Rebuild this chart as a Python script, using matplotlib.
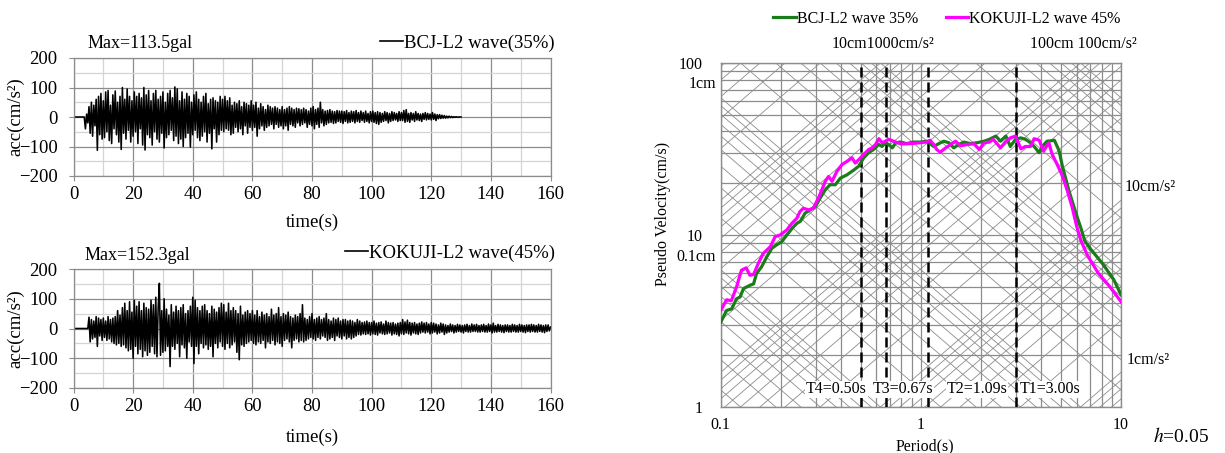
import numpy as np
import matplotlib
matplotlib.use("Agg")
import matplotlib.pyplot as plt
from matplotlib.lines import Line2D
from matplotlib.ticker import NullFormatter

plt.rcParams['font.family'] = ['Liberation Serif', 'DejaVu Serif']
plt.rcParams['mathtext.fontset'] = 'stix'

# ---------------- data ----------------
DT = 0.4  # s, sample step of the digitised records

bcj_acc = [
    0, 0, 0, 0, 0, 0, 0, 0, 0, 0, -40, 10, -20, 35, -55, 50, -65, 40, -30, 60, -113, 70, -60, 80, -75,
    55, -70, 85, -50, 90, -80, 40, -90, 75, -40, 88, -60, 50, -85, 70, -110, 100, -55, 60, -75, 95, -45, 70, -85, 55,
    -65, 85, -50, 70, -90, 80, -40, 65, -95, 100, -112, 75, -60, 90, -70, 55, -95, 80, -50, 90, -75, 60, -85, 70, -55,
    85, -105, 50, -70, 80, -60, 90, -45, 65, -80, 102, -65, 95, -90, 55, -75, 85, -100, 60, -70, 80, -55, 70, -102, 50,
    -60, 75, -45, 85, -70, 60, -80, 50, -65, 70, -50, 80, -85, 45, -55, 60, -108, 65, -40, 55, -85, 50, -60, 70, -45,
    60, -50, 70, -40, 55, -45, 65, -60, 40, -55, 50, -35, 45, -50, 55, -40, 35, -60, 50, -30, 45, -55, 40, -35, 55,
    -45, 40, -35, 50, -65, 30, -40, 45, -30, 35, -45, 25, -35, 40, -30, 35, -25, 30, -40, 35, -25, 30, -35, 25, -30,
    35, -40, 25, -30, 30, -45, 35, -25, 30, -30, 25, -35, 30, -20, 28, -30, 25, -25, 30, -20, 25, -35, 20, -25, 30,
    -30, 35, -40, 25, -25, 30, -35, 50, -20, 25, -30, 20, -25, 22, -20, 25, -18, 20, -22, 18, -20, 22, -15, 20, -18,
    20, -22, 18, -15, 22, -20, 15, -18, 20, -15, 18, -20, 22, -15, 15, -18, 20, -12, 15, -18, 20, -15, 12, -20, 18,
    -15, 20, -18, 15, -22, 18, -25, 15, -18, 12, -15, 18, -12, 15, -20, 12, -15, 18, -12, 15, -10, 12, -15, 18, -12,
    15, -12, 22, -18, 25, -15, 12, -18, 15, -10, 12, -15, 18, -10, 12, -12, 10, -15, 12, -8, 15, -10, 12, -8, 10,
    -10, 15, -8, 10, -12, 8, -6, 8, -5, 6, -4, 5, -4, 3, -3, 3, -2, 2, -2, 1, -1, 1, -1, 0, 0,
    0,
]

kokuji_acc = [
    0, 0, 0, 0, 0, 0, 0, 0, 0, 0, 0, 0, 0, 38, -45, 30, -35, 25, -30, 40, -60, 35, -25, 30, -40,
    35, -30, 25, -40, 40, -35, 30, -45, 35, -50, 40, -55, 60, -50, 45, -60, 70, -55, 85, -65, 60, -75, 90, -70, 55,
    -100, 95, -60, 75, -85, 90, -70, 60, -95, 85, -75, 70, -90, 65, -80, 95, -60, 80, -85, 105, -95, 70, 152, -90, 60,
    -80, 100, -75, 65, -60, 45, -128, 80, -60, 55, -70, 75, -50, 60, -95, 70, -55, 80, -65, 50, -100, 60, -45, 75, -60,
    105, -118, 95, -60, 70, -85, 60, -50, 75, -65, 80, -55, 60, -70, 50, -60, 75, -95, 65, -50, 55, -65, 70, -45, 85,
    -60, 80, -70, 55, -50, 85, -65, 60, -55, 70, -45, 60, -80, 50, -105, 75, -55, 45, -60, 55, -50, 60, -45, 50, -40,
    60, -50, 45, -55, 60, -45, 40, -50, 55, -40, 45, -65, 50, -45, 40, -50, 65, -40, 45, -55, 50, -45, 70, -50, 40,
    -60, 50, -40, 45, -35, 55, -45, 40, -65, 35, -40, 45, -35, 40, -45, 50, -40, 80, -45, 35, -40, 30, -35, 40, -30,
    50, -35, 30, -40, 35, -30, 40, -35, 30, -25, 35, -30, 50, -40, 30, -35, 25, -30, 35, -40, 30, -25, 35, -30, 25,
    -35, 30, -25, 30, -35, 25, -30, 28, -35, 25, -30, 20, -25, 30, -20, 25, -22, 20, -18, 22, -20, 25, -18, 20, -22,
    20, -18, 25, -20, 18, -22, 20, -15, 22, -18, 15, -20, 25, -18, 20, -15, 18, -22, 20, -18, 15, -20, 18, -25, 20,
    -18, 30, -20, 22, -15, 28, -18, 20, -22, 18, -15, 20, -18, 15, -20, 18, -15, 22, -12, 18, -15, 20, -12, 15, -18,
    20, -15, 18, -12, 15, -18, 12, -15, 18, -12, 15, -20, 12, -15, 10, -12, 15, -10, 12, -15, 10, -12, 14, -10, 12,
    -12, 10, -15, 12, -10, 14, -12, 10, -12, 15, -10, 12, -10, 14, -12, 10, -12, 12, -10, 14, -12, 10, -12, 15, -10,
    12, -15, 18, -12, 10, -12, 14, -10, 12, -12, 10, -14, 12, -10, 12, -12, 10, -12, 14, -10, 12, -12, 10, -12, 14,
    -10, 12, -12, 10, -14, 12, -10, 12, -12, 14, -10, 12, -12, 10, -12, 14, -10, 12, -12, 10, -14, 12, -10, 12, -8,
    5,
]

bcj_label = "BCJ-L2 wave(35%)"
kokuji_label = "KOKUJI-L2 wave(45%)"
bcj_max = "Max=113.5gal"
kokuji_max = "Max=152.3gal"

# pseudo velocity response spectra (h=0.05)
bcj_T = [0.100, 0.107, 0.1135, 0.120, 0.125, 0.130, 0.140, 0.146, 0.151, 0.160, 0.170, 0.180, 0.190,
         0.202, 0.214, 0.227, 0.240, 0.250, 0.264, 0.280, 0.297, 0.314, 0.333, 0.352, 0.374, 0.396,
         0.428, 0.461, 0.489, 0.518, 0.549, 0.580, 0.617, 0.640, 0.665, 0.690, 0.720, 0.750, 0.790,
         0.850, 0.920, 0.990, 1.07, 1.16, 1.23, 1.30, 1.38, 1.46, 1.55, 1.64, 1.77, 1.91, 2.07, 2.20,
         2.37, 2.50, 2.66, 2.80, 2.97, 3.16, 3.33, 3.53, 3.73, 3.90, 4.04, 4.27, 4.65, 4.90, 5.10,
         5.50, 6.00, 6.30, 6.60, 7.10, 8.10, 9.20, 10.0]
bcj_sv = [3.11, 3.64, 3.72, 4.26, 4.36, 4.88, 5.10, 5.20, 5.97, 6.53, 7.47, 8.36, 8.75,
          9.15, 10.0, 10.9, 11.7, 12.0, 13.4, 14.0, 14.6, 16.4, 18.3, 19.6, 19.6, 21.4,
          22.4, 23.8, 25.1, 28.1, 30.1, 31.4, 33.6, 32.7, 34.4, 33.6, 32.1, 34.4, 34.7,
          34.0, 34.7, 34.7, 35.1, 32.7, 34.0, 35.1, 34.4, 32.1, 33.6, 34.7, 34.0, 34.4, 35.1, 36.0,
          37.6, 35.1, 37.6, 32.7, 36.0, 36.7, 36.0, 34.4, 32.1, 30.1, 32.7, 35.1, 35.5, 31.0, 25.0,
          18.0, 13.0, 11.0, 9.2, 8.2, 6.8, 5.5, 4.5]

kokuji_T = [0.100, 0.107, 0.113, 0.120, 0.127, 0.134, 0.140, 0.146, 0.154, 0.163, 0.177, 0.187,
            0.198, 0.214, 0.227, 0.240, 0.249, 0.259, 0.275, 0.290, 0.308, 0.320, 0.333, 0.346,
            0.360, 0.381, 0.404, 0.428, 0.453, 0.470, 0.500, 0.518, 0.549, 0.570, 0.594, 0.617,
            0.640, 0.665, 0.690, 0.730, 0.790, 0.850, 0.920, 0.990, 1.07, 1.11, 1.16, 1.20, 1.25,
            1.33, 1.41, 1.49, 1.58, 1.71, 1.84, 1.96, 2.07, 2.20, 2.30, 2.50, 2.66, 2.80, 2.97,
            3.16, 3.33, 3.53, 3.68, 3.90, 4.10, 4.36, 4.53, 4.80, 5.10, 5.40, 5.70, 6.00, 6.30,
            6.80, 7.70, 8.80, 10.0]
kokuji_sv = [3.64, 4.20, 4.15, 4.99, 6.24, 6.44, 5.83, 5.90, 6.83, 7.80, 8.55, 9.78,
             10.0, 10.7, 11.7, 12.5, 13.7, 14.3, 14.0, 14.3, 16.4, 18.3, 20.5, 21.9,
             20.5, 23.5, 25.7, 26.8, 28.1, 26.2, 28.1, 29.4, 31.4, 32.1, 33.6, 36.3,
             34.4, 35.1, 36.0, 35.1, 33.9, 33.9, 34.1, 34.4, 34.7, 35.6, 33.6, 31.4, 30.3,
             32.1, 33.6, 35.1, 33.0, 33.6, 33.9, 31.4, 34.4, 34.7, 36.0, 32.1, 35.1, 36.7, 37.6,
             31.7, 32.7, 32.7, 36.3, 35.6, 30.7, 34.4, 29.4, 25.7, 22.0, 18.0, 14.5, 11.3, 9.3,
             7.6, 6.0, 5.0, 4.1]

period_marks = [0.50, 0.67, 1.09, 3.00]
period_texts = ["T4=0.50s", "T3=0.67s", "T2=1.09s", "T1=3.00s"]
spec_labels = ["BCJ-L2 wave 35%", "KOKUJI-L2 wave 45%"]
disp_levels = [m * 10.0 ** k for k in range(-2, 3) for m in range(1, 10)]   # cm
acc_levels = [m * 10.0 ** k for k in range(-1, 4) for m in range(1, 10)]    # cm/s2

# ---------------- figure ----------------
W, H = 1225, 453
fig = plt.figure(figsize=(W / 100, H / 100), dpi=100)


def fx(px):
    return px / W


def fy(py):
    return 1 - py / H


GCOL = '#8c8c8c'


def time_axes(px_box, acc, label, maxtxt, title_xy, leg_xy, xlabel_y):
    l, r, t, b = px_box
    ax = fig.add_axes([fx(l), fy(b), fx(r) - fx(l), fy(t) - fy(b)])
    tt = np.arange(len(acc)) * DT
    ax.plot(tt, acc, color='black', lw=1.15)
    ax.set_xlim(0, 160)
    ax.set_ylim(-200, 200)
    ax.set_xticks(np.arange(0, 161, 20))
    ax.set_xticks(np.arange(0, 161, 10), minor=True)
    ax.set_yticks(np.arange(-200, 201, 100))
    ax.set_yticks(np.arange(-200, 201, 50), minor=True)
    ax.grid(which='minor', color='#d4d4d4', lw=0.9)
    ax.grid(which='major', color=GCOL, lw=0.9)
    ax.set_axisbelow(True)
    for s in ax.spines.values():
        s.set_color(GCOL)
        s.set_linewidth(0.9)
    ax.tick_params(which='major', length=3.5, color=GCOL, labelsize=13.5)
    ax.tick_params(axis='x', pad=4)
    ax.tick_params(axis='y', pad=8)
    ax.tick_params(which='minor', length=0)
    fig.text(fx(title_xy[0]), fy(title_xy[1]), maxtxt, fontsize=13, ha='left', va='center')
    fig.text(fx(16), fy((t + b) / 2), 'acc(cm/s²)',
             rotation=90, fontsize=13.5, ha='center', va='center')
    fig.text(fx((l + r) / 2), fy(xlabel_y), 'time(s)', fontsize=13.5, ha='center', va='center')
    h = Line2D([], [], color='black', lw=1.2)
    ax.legend([h], [label], loc='center right', bbox_to_anchor=(fx(leg_xy[0]), fy(leg_xy[1])),
              bbox_transform=fig.transFigure, frameon=False, fontsize=13.5,
              handlelength=1.25, handletextpad=0.05, borderpad=0, borderaxespad=0)
    return ax


time_axes((73.5, 550.5, 58, 176), bcj_acc, bcj_label, bcj_max, (88, 43), (555, 43), 222)
time_axes((73.5, 550.5, 269, 388), kokuji_acc, kokuji_label, kokuji_max, (85, 255), (555, 253), 437)

# ---------------- tripartite spectrum ----------------
L, R, T0, B = 720.7, 1121, 63, 407
ax = fig.add_axes([fx(L), fy(B), fx(R) - fx(L), fy(T0) - fy(B)])
ax.set_xscale('log')
ax.set_yscale('log')

Tg = np.array([0.1, 10.0])
for d in disp_levels:
    ax.plot(Tg, 2 * np.pi * d / Tg, color=GCOL, lw=0.6, zorder=1)
for a in acc_levels:
    ax.plot(Tg, a * Tg / (2 * np.pi), color=GCOL, lw=0.6, zorder=1)
ax.set_xlim(0.1, 10)
ax.set_ylim(1, 100)
ax.set_axisbelow(True)
for s in ax.spines.values():
    s.set_color(GCOL)
    s.set_linewidth(1.0)

ax.set_xticks([0.1, 1, 10])
ax.set_xticklabels(['0.1', '1', '10'])
ax.set_yticks([1, 10, 100])
ax.set_yticklabels(['1', '10', '100'])
ax.minorticks_on()
ax.xaxis.set_minor_formatter(NullFormatter())
ax.yaxis.set_minor_formatter(NullFormatter())
ax.tick_params(which='both', length=0, labelsize=11.5)
ax.tick_params(axis='y', which='major', pad=13)
ax.tick_params(axis='x', which='major', pad=7)
ax.grid(which='both', color=GCOL, lw=0.9, zorder=1)

for Tm in period_marks:
    ax.axvline(Tm, color='black', lw=1.8, ls=(0, (4, 2)), zorder=3)

ax.plot(bcj_T, bcj_sv, color='#1a7d1a', lw=2.3, zorder=4)
ax.plot(kokuji_T, kokuji_sv, color='#ff00ff', lw=2.3, zorder=5)

for Tl, s in zip([0.267, 0.577, 1.34, 3.10], period_texts):
    ax.text(Tl, 1.27, s, fontsize=11.5, ha='left', va='center', zorder=6,
            bbox=dict(facecolor='white', edgecolor='none', pad=0.5))

# displacement / acceleration labels
tr = ax.get_yaxis_transform()
ax.text(-0.012, 76, '1cm', transform=tr, fontsize=11.5, ha='right', va='center')
ax.text(-0.012, 7.4, '0.1cm', transform=tr, fontsize=11.5, ha='right', va='center')
ax.text(1.01, 19, '10cm/s²', transform=tr, fontsize=11.5, ha='left', va='center')
ax.text(1.015, 1.87, '1cm/s²', transform=tr, fontsize=11.5, ha='left', va='center')
fig.text(fx(883), fy(44), '10cm1000cm/s²', fontsize=11.5, ha='center', va='center')
fig.text(fx(1083), fy(44), '100cm 100cm/s²', fontsize=11.5, ha='center', va='center')

fig.text(fx(663), fy(214), 'Pseudo Velocity(cm/s)', rotation=90, fontsize=11.5, ha='center', va='center')
fig.text(fx(925), fy(446), 'Period(s)', fontsize=11.5, ha='center', va='center')
fig.text(fx(1153), fy(437), r'$h$=0.05', fontsize=14, ha='left', va='center')

hs = [Line2D([], [], color='#1a7d1a', lw=2.3), Line2D([], [], color='#ff00ff', lw=2.3)]
fig.legend(hs, spec_labels, loc='center', bbox_to_anchor=(fx(947), fy(19)), ncol=2, frameon=False,
           fontsize=11.5, handlelength=1.4, handletextpad=0.1, columnspacing=1.7, borderpad=0)

fig.savefig('out.png', dpi=100)
